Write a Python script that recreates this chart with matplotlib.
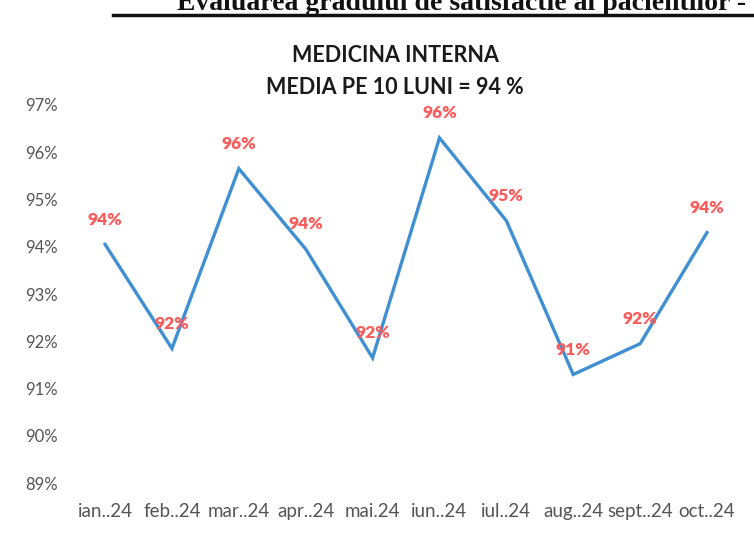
import matplotlib.pyplot as plt
from matplotlib.lines import Line2D

plt.rcParams['font.family'] = ['Lato', 'DejaVu Sans']

months = ['ian..24', 'feb..24', 'mar..24', 'apr..24', 'mai.24',
          'iun..24', 'iul..24', 'aug..24', 'sept..24', 'oct..24']
satisfactie = [94.05, 91.85, 95.65, 93.95, 91.65, 96.3, 94.55, 91.3, 91.95, 94.3]
labels = ['94%', '92%', '96%', '94%', '92%', '96%', '95%', '91%', '92%', '94%']
yticks = [89, 90, 91, 92, 93, 94, 95, 96, 97]

fig = plt.figure(figsize=(7.54, 5.43), dpi=100)
ax = fig.add_axes([0.095, 0.11, 0.887, 0.697])

x = list(range(len(months)))
ax.plot(x, satisfactie, color='#3f8fd2', linewidth=2.4, solid_joinstyle='miter')

for xi, v, lab in zip(x, satisfactie, labels):
    ax.annotate(lab, (xi, v), xytext=(0, 12), textcoords='offset points',
                ha='center', va='bottom', color='#ff5a5a',
                fontsize=12.5, fontweight='heavy')

ax.set_xlim(-0.5, len(months) - 0.5)
ax.set_ylim(89, 97)
ax.set_yticks(yticks)
ax.set_yticklabels([f'{t}%' for t in yticks])
ax.set_xticks(x)
ax.set_xticklabels(months, fontsize=13.5)
ax.tick_params(axis='both', length=0, colors='#555555')
ax.tick_params(axis='y', pad=10, labelsize=12)
ax.tick_params(axis='x', pad=14)
for s in ax.spines.values():
    s.set_visible(False)

fig.text(0.524, 0.898, 'MEDICINA INTERNA', ha='center', va='center',
         fontsize=15.5, fontweight='bold', color='#1a1a1a')
fig.text(0.524, 0.838, 'MEDIA PE 10 LUNI = 94 %', ha='center', va='center',
         fontsize=15.5, fontweight='bold', color='#1a1a1a')

# header of the page, cut off at the top of the scan
fig.text(0.99, 0.982, 'Evaluarea gradului de satisfactie al pacientilor -',
         ha='right', va='baseline', fontsize=20, fontweight='bold',
         family='Liberation Serif', color='#111111')
fig.add_artist(Line2D([0.15, 1.0], [0.972, 0.972], color='#111111', linewidth=2.5))

plt.savefig('out.png', dpi=100)
